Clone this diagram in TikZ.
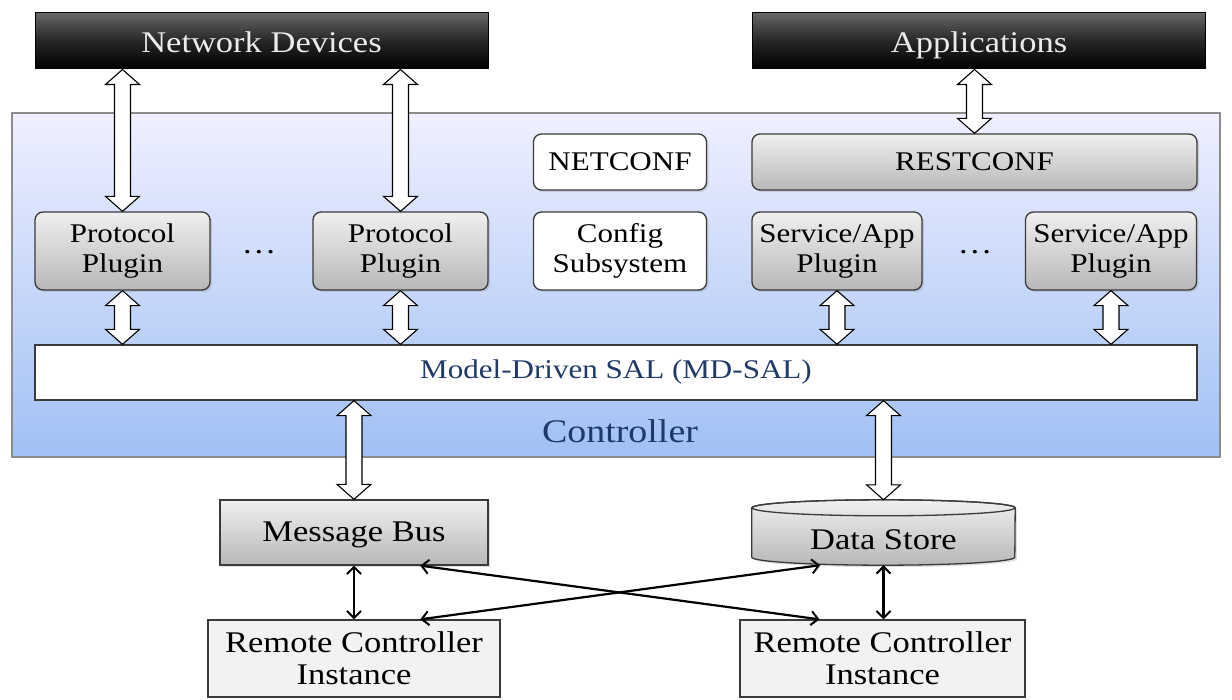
\documentclass[tikz,border=0pt]{standalone}
\usepackage{fontspec}
\setmainfont[FakeStretch=1.15]{Liberation Serif}
\usetikzlibrary{arrows.meta,calc,shadows}
\definecolor{navy}{HTML}{1F3A68}
\definecolor{bord}{HTML}{3A3A3A}
\newcommand\fin{\fontsize{27}{30}\selectfont}
\newcommand\fbig{\fontsize{30}{32}\selectfont}
\tikzset{
  dark/.style={draw=black, line width=1pt, top color=black!60, bottom color=black, middle color=black!85,
    text=white!92!black, minimum height=56pt, font=\fbig, inner sep=0pt, text height=24pt, text depth=0pt},
  graybox/.style={draw=bord, line width=1.3pt, rounded corners=8pt, top color=white!94!black, bottom color=black!28,
    font=\fin, align=center, inner sep=0pt,
    drop shadow={opacity=0.25, shadow xshift=2pt, shadow yshift=-2pt}},
  whitebox/.style={graybox, fill=white, top color=white, bottom color=white},
  flatgray/.style={graybox, rounded corners=0pt, font=\fbig},
  rci/.style={draw=bord, line width=1.3pt, fill=black!5, font=\fbig, align=center, inner sep=0pt},
  fatarr/.style={draw=black, line width=1.1pt, fill=white, line join=miter},
  thin/.style={line width=2.2pt, {Straight Barb[length=7pt,width=14pt,line width=2pt]}-{Straight Barb[length=7pt,width=14pt,line width=2pt]}},
}
\newcommand\fatarrow[2]{%
  \path[fatarr] let \p1=#1, \p2=#2 in
   (\x1,\y1) -- (\x1+17pt,\y1-15pt) -- (\x1+8pt,\y1-15pt) -- (\x1+8pt,\y2+15pt) -- (\x1+17pt,\y2+15pt)
   -- (\x1,\y2) -- (\x1-17pt,\y2+15pt) -- (\x1-8pt,\y2+15pt) -- (\x1-8pt,\y1-15pt) -- (\x1-17pt,\y1-15pt) -- cycle;}
\begin{document}
\begin{tikzpicture}[x=1pt,y=-1pt]
\useasboundingbox (0,0) rectangle (1232,700);
% controller
\node[draw=black!45, line width=1.3pt, top color=blue!6!white, bottom color={rgb,255:red,160;green,192;blue,244},
  minimum width=1208pt, minimum height=344pt, inner sep=0pt] (ctrl) at (616,285) {};
\node[text=navy, font=\fontsize{33}{36}\selectfont] (ctrltxt) at (620,431) {Controller};
% top boxes
\node[dark, minimum width=453pt] (nd) at (261.5,41) {Network Devices};
\node[dark, minimum width=453pt] (apps) at (979,41) {Applications};
% inner boxes
\node[graybox, minimum width=175pt, minimum height=78pt] (pp1) at (122.5,251) {Protocol\\Plugin};
\node[graybox, minimum width=175pt, minimum height=78pt] (pp2) at (400.5,251) {Protocol\\Plugin};
\node[font=\fbig] (dots1) at (259,252) {.\kern3pt.\kern3pt.};
\node[whitebox, minimum width=173pt, minimum height=56pt] (netconf) at (620,162) {NETCONF};
\node[whitebox, minimum width=173pt, minimum height=78pt] (cfg) at (620,251) {Config\\Subsystem};
\node[graybox, minimum width=445pt, minimum height=56pt] (rest) at (974.5,162) {RESTCONF};
\node[graybox, minimum width=170pt, minimum height=78pt] (sap1) at (837,251) {Service/App\\Plugin};
\node[graybox, minimum width=171pt, minimum height=78pt] (sap2) at (1111,251) {Service/App\\Plugin};
\node[font=\fbig] (dots2) at (975,252) {.\kern3pt.\kern3pt.};
\node[draw=bord, line width=1.3pt, fill=white, minimum width=1162pt, minimum height=55pt, inner sep=0pt,
  text=navy, font=\fin] (mdsal) at (616,372.5) {Model-Driven SAL (MD-SAL)};
% bottom
\node[flatgray, minimum width=268pt, minimum height=65pt, text height=21pt, text depth=3pt] (mb) at (354,532.5) {Message Bus};
\node[minimum width=263pt, minimum height=65pt, inner sep=0pt] (ds) at (883.5,532.5) {};
\path[draw=bord, line width=1.3pt, top color=white!94!black, bottom color=black!28,
  drop shadow={opacity=0.25, shadow xshift=2pt, shadow yshift=-2pt}]
  ([yshift=-8pt]ds.north west) -- ([yshift=8pt]ds.south west)
  arc[start angle=180, end angle=360, x radius=131.5pt, y radius=8pt]
  -- ([yshift=-8pt]ds.north east)
  arc[start angle=0, end angle=180, x radius=131.5pt, y radius=8pt] -- cycle;
\draw[bord, line width=1.3pt] ([yshift=-8pt]ds.north) ellipse[x radius=131.5pt, y radius=8pt];
\node[font=\fbig] (dstxt) at (883.5,540) {Data Store};
\node[rci, minimum width=292pt, minimum height=77pt] (rci1) at (354,658.5) {Remote Controller\\Instance};
\node[rci, minimum width=285pt, minimum height=77pt] (rci2) at (882.5,658.5) {Remote Controller\\Instance};
% fat arrows
\fatarrow{(nd.south -| pp1.north)}{(pp1.north)}
\fatarrow{(nd.south -| pp2.north)}{(pp2.north)}
\fatarrow{(apps.south -| rest.north)}{(rest.north)}
\fatarrow{(pp1.south)}{(mdsal.north -| pp1.south)}
\fatarrow{(pp2.south)}{(mdsal.north -| pp2.south)}
\fatarrow{(sap1.south)}{(mdsal.north -| sap1.south)}
\fatarrow{(sap2.south)}{(mdsal.north -| sap2.south)}
\fatarrow{(mdsal.south -| mb.north)}{(mb.north)}
\fatarrow{(mdsal.south -| ds.north)}{(ds.north)}
% thin arrows
\draw[thin] (mb.south) -- (rci1.north);
\draw[thin] (ds.south) -- (rci2.north -| ds.south);
\draw[thin] ($(mb.south west)!0.746!(mb.south east)$) -- ($(rci2.north west)!0.28!(rci2.north east)$);
\draw[thin] ($(rci1.north west)!0.726!(rci1.north east)$) -- ($(ds.south west)!0.26!(ds.south east)$);
\end{tikzpicture}
\end{document}
